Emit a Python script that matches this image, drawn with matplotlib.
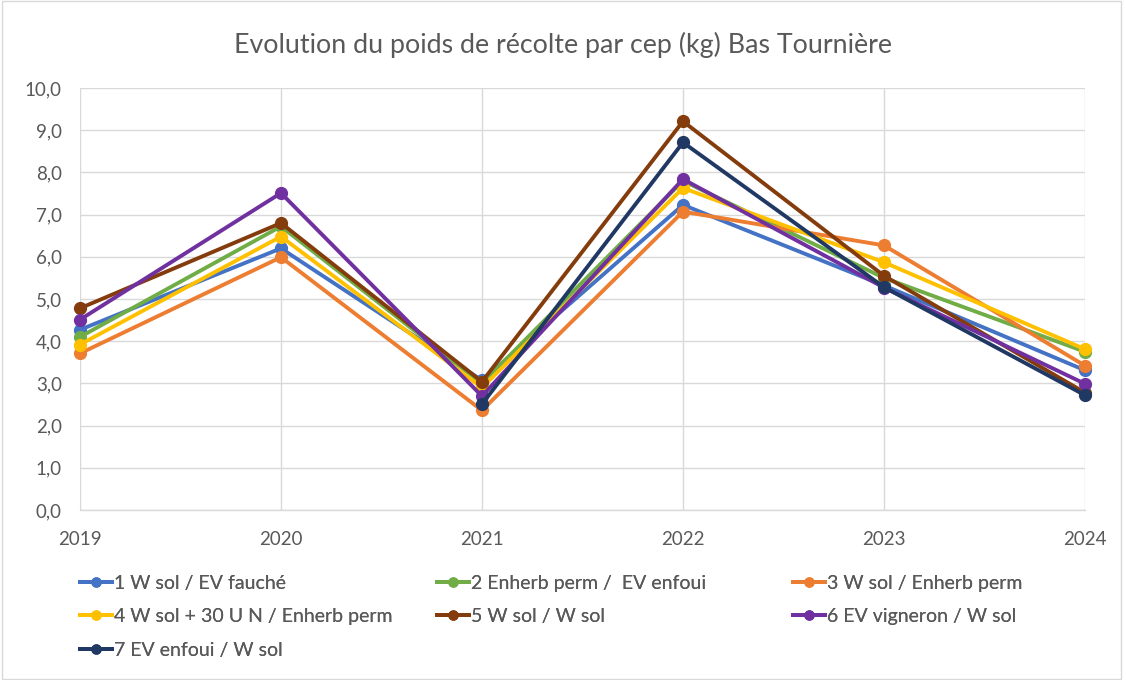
import matplotlib
matplotlib.use("Agg")
import matplotlib.pyplot as plt
from matplotlib.lines import Line2D
from matplotlib.patches import Rectangle
from matplotlib.ticker import FuncFormatter

plt.rcParams['font.family'] = ['Lato', 'DejaVu Sans']

years = [2019, 2020, 2021, 2022, 2023, 2024]

series_names = [
    "1 W sol / EV fauché",
    "2 Enherb perm /  EV enfoui",
    "3 W sol / Enherb perm",
    "4 W sol + 30 U N / Enherb perm",
    "5 W sol / W sol",
    "6 EV vigneron / W sol",
    "7 EV enfoui / W sol",
]

s1 = [4.27, 6.20, 3.07, 7.23, 5.32, 3.31]
s2 = [4.10, 6.72, 3.00, 7.80, 5.50, 3.75]
s3 = [3.71, 5.99, 2.36, 7.07, 6.27, 3.42]
s4 = [3.92, 6.48, 2.90, 7.63, 5.87, 3.81]
s5 = [4.78, 6.80, 3.04, 9.21, 5.55, 2.78]
s6 = [4.51, 7.51, 2.70, 7.84, 5.27, 2.99]
s7 = [None, None, 2.51, 8.71, 5.28, 2.72]

series_values = [s1, s2, s3, s4, s5, s6, s7]
series_colors = ["#4472C4", "#70AD47", "#ED7D31", "#FFC000",
                 "#843C0C", "#7030A0", "#203864"]

fig = plt.figure(figsize=(11.26, 6.8), dpi=100)
ax = fig.add_axes([0.0710, 0.25, 0.8926, 0.6206])

text_col = "#595959"
grid_col = "#D9D9D9"

for vals, col, name in zip(series_values, series_colors, series_names):
    xs = [x for x, v in zip(years, vals) if v is not None]
    ys = [v for v in vals if v is not None]
    ax.plot(xs, ys, color=col, lw=2.8, marker="o", ms=8.5,
            solid_capstyle="round", label=name, clip_on=False, zorder=3)

ax.set_xlim(years[0], years[-1])
ax.set_ylim(0, 10)
ax.set_yticks([i for i in range(11)])
ax.set_xticks(years)
ax.yaxis.set_major_formatter(FuncFormatter(lambda v, p: f"{v:.1f}".replace(".", ",")))
ax.grid(True, color=grid_col, lw=1.0, zorder=0)
for s in ["top", "right", "left"]:
    ax.spines[s].set_visible(False)
ax.spines["bottom"].set_color(grid_col)
ax.spines["bottom"].set_linewidth(1.0)
ax.tick_params(length=0, colors=text_col, labelsize=13.5)
ax.tick_params(axis="x", pad=15)
ax.tick_params(axis="y", pad=13)

fig.text(0.5, 0.934, "Evolution du poids de récolte par cep (kg) Bas Tournière",
         ha="center", va="center", fontsize=19.3, color=text_col)

# legend laid out in three columns
handles = [Line2D([], [], color=c, lw=2.8, marker="o", ms=6.5) for c in series_colors]
col_x = [0.071, 0.388, 0.704]
columns = [[0, 3, 6], [1, 4], [2, 5]]
for cx, idx in zip(col_x, columns):
    leg = fig.legend([handles[i] for i in idx], [series_names[i] for i in idx],
                     loc="upper left", bbox_to_anchor=(cx, 0.155),
                     frameon=False, fontsize=14, handlelength=1.65,
                     handletextpad=0.1, labelspacing=0.85,
                     labelcolor=text_col, borderaxespad=0, borderpad=0)
    fig.add_artist(leg)

fig.add_artist(Rectangle((0.002, 0.002), 0.994, 0.996, transform=fig.transFigure,
                         fill=False, edgecolor=grid_col, lw=1.0))

fig.savefig("out.png", dpi=100)
